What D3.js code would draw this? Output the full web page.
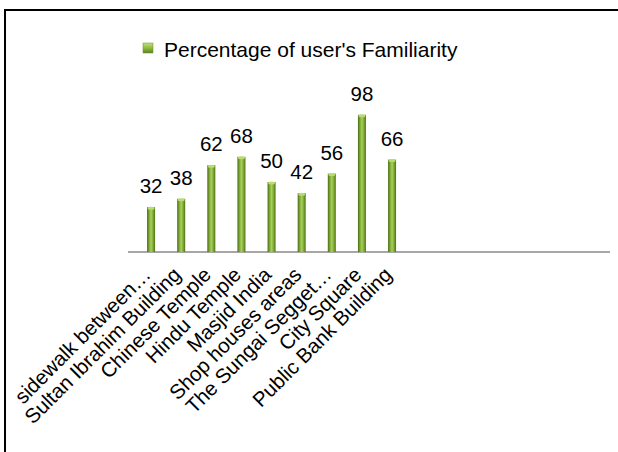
<!DOCTYPE html>
<html><head><meta charset="utf-8">
<script src="https://cdn.jsdelivr.net/npm/d3@7"></script>
<style>html,body{margin:0;padding:0;background:#fff;}svg{display:block;font-family:"Liberation Sans",Arial,sans-serif;}</style>
</head><body>
<svg id="c" width="618" height="452"></svg>
<script>
const categories = ["sidewalk between…","Sultan Ibrahim Building","Chinese Temple","Hindu Temple","Masjid India","Shop houses areas","The Sungai Segget…","City Square","Public Bank Building"];
const values = [32,38,62,68,50,42,56,98,66];
const seriesName = "Percentage of user's Familiarity";
const slotCount = 16;

const svg = d3.select("#c");
const defs = svg.append("defs");
const g = defs.append("linearGradient").attr("id","barg").attr("x1","0%").attr("x2","100%").attr("y1","0%").attr("y2","0%");
[["0%","#4b6a18"],["30%","#86b23a"],["50%","#a8d05a"],["75%","#7ea934"],["100%","#4f7019"]].forEach(s=>g.append("stop").attr("offset",s[0]).attr("stop-color",s[1]));
const lg = defs.append("linearGradient").attr("id","legg").attr("x1","0%").attr("x2","0%").attr("y1","0%").attr("y2","100%");
[["0%","#c2e07a"],["50%","#8dbb3e"],["100%","#5d8221"]].forEach(s=>lg.append("stop").attr("offset",s[0]).attr("stop-color",s[1]));

// frame
svg.append("rect").attr("x",5).attr("y",10).attr("width",700).attr("height",600).attr("fill","none").attr("stroke","#000").attr("stroke-width",2);

const plotLeft = 128, plotRight = 610, baseY = 252, topY = 112;
const x = d3.scaleBand().domain(d3.range(slotCount)).range([plotLeft+8, plotRight+8]);
const y = d3.scaleLinear().domain([0,100]).range([baseY, topY]);
const bw = 8;

svg.append("line").attr("x1",plotLeft).attr("x2",plotRight).attr("y1",baseY).attr("y2",baseY).attr("stroke","#8a8a8a").attr("stroke-width",1.6);

const bars = svg.append("g");
values.forEach((v,i)=>{
  const cx = x(i)+x.bandwidth()/2;
  bars.append("rect").attr("x",cx-bw/2).attr("y",y(v)).attr("width",bw).attr("height",baseY-y(v)).attr("fill","url(#barg)");
  bars.append("ellipse").attr("cx",cx).attr("cy",y(v)+1).attr("rx",bw/2-0.5).attr("ry",1.5).attr("fill","#b9dc70");
  svg.append("text").attr("x",cx).attr("y",y(v)-14).attr("text-anchor","middle").attr("font-size",20.5).attr("fill","#000").text(v);
});

categories.forEach((c,i)=>{
  const cx = x(i)+x.bandwidth()/2;
  svg.append("text").attr("transform",`translate(${cx+1},${276}) rotate(-45)`).attr("text-anchor","end").attr("font-size",20.5).attr("fill","#000").text(c);
});

// legend
svg.append("rect").attr("x",143).attr("y",43).attr("width",10).attr("height",10).attr("fill","url(#legg)").attr("stroke","#6b8f2a").attr("stroke-width",0.5);
svg.append("text").attr("x",164).attr("y",57).attr("font-size",21).attr("fill","#000").text(seriesName);
</script>
</body></html>
